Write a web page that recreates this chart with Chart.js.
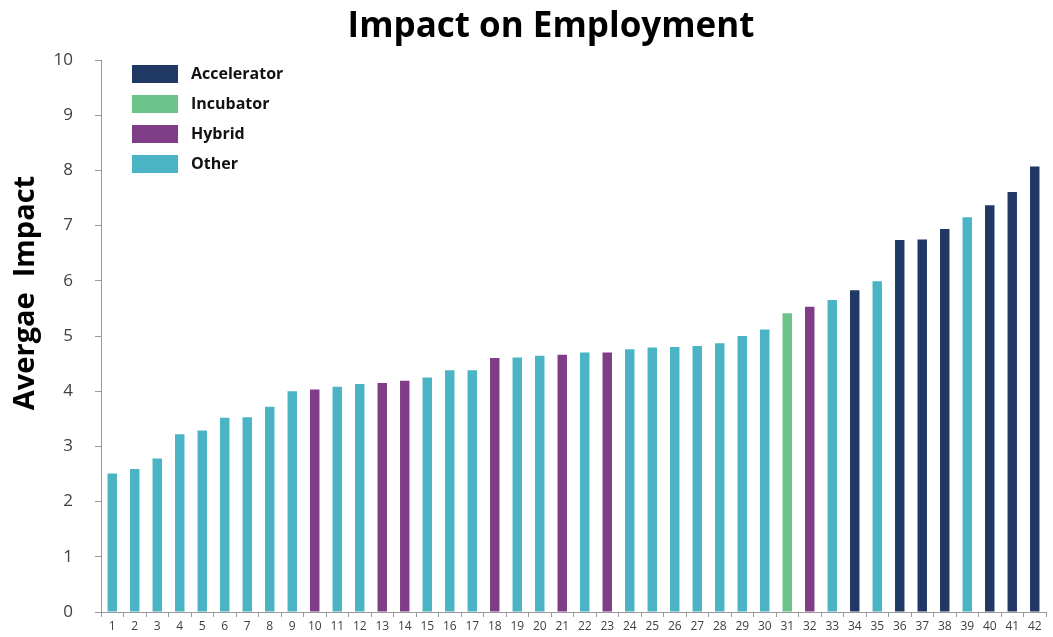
<!DOCTYPE html>
<html>
<head>
<meta charset="utf-8">
<script src="https://cdn.jsdelivr.net/npm/chart.js@4.4.0/dist/chart.umd.min.js"></script>
<style>
  html, body { margin: 0; padding: 0; background: #fff; }
  #wrap { width: 1053px; height: 637px; }
</style>
</head>
<body>
<div id="wrap"><canvas id="myChart" width="1053" height="637"></canvas></div>
<script>
var labels = [];
for (var n = 1; n <= 42; n++) labels.push(String(n));

// average impact per program, sorted ascending
var values = [2.51, 2.59, 2.78, 3.22, 3.29, 3.52, 3.53, 3.72, 4.00, 4.03,
              4.08, 4.13, 4.15, 4.19, 4.25, 4.38, 4.38, 4.60, 4.61, 4.64,
              4.66, 4.70, 4.70, 4.76, 4.79, 4.80, 4.82, 4.87, 5.00, 5.12,
              5.41, 5.53, 5.65, 5.83, 5.99, 6.74, 6.75, 6.94, 7.15, 7.37,
              7.61, 8.07];

// A = accelerator, I = incubator, H = hybrid, O = other
var types = ['O','O','O','O','O','O','O','O','O','H',
             'O','O','H','H','O','O','O','H','O','O',
             'H','O','H','O','O','O','O','O','O','O',
             'I','H','O','A','O','A','A','A','O','A',
             'A','A'];

var groups = [
  {key: 'A', label: 'Accelerator', color: '#203864'},
  {key: 'I', label: 'Incubator',   color: '#6cc48b'},
  {key: 'H', label: 'Hybrid',      color: '#803d87'},
  {key: 'O', label: 'Other',       color: '#4bb4c4'}
];

var datasets = groups.map(function(g){
  return {
    label: g.label,
    backgroundColor: g.color,
    data: values.map(function(v, i){ return types[i] === g.key ? v : null; }),
    barPercentage: 0.42,
    categoryPercentage: 1.0
  };
});

var FONT = "'Open Sans', 'DejaVu Sans', sans-serif";

// title, y axis title and the legend box drawn by hand
var decorations = {
  id: 'decorations',
  afterDraw: function(chart){
    var c = chart.ctx;
    var area = chart.chartArea;
    c.save();
    c.fillStyle = '#000';
    c.textAlign = 'center';
    c.textBaseline = 'middle';
    c.font = "bold 35px " + FONT;
    c.fillText('Impact on Employment', 551, 27);

    c.save();
    c.translate(26, 293);
    c.rotate(-Math.PI / 2);
    c.font = "bold 29px " + FONT;
    c.fillText('Avergae  Impact', 0, 0);
    c.restore();

    c.textAlign = 'left';
    c.font = "bold 16px " + FONT;
    chart.data.datasets.forEach(function(ds, i){
      var y = area.top + 5 + i * 30;
      c.fillStyle = ds.backgroundColor;
      c.fillRect(area.left + 31, y, 46, 18);
      c.fillStyle = '#111';
      c.fillText(ds.label, area.left + 90, y + 9);
    });
    c.restore();
  }
};

var ctx = document.getElementById("myChart");
var myChart = new Chart(ctx, {
  type: 'bar',
  data: {
    labels: labels,
    datasets: datasets
  },
  options: {
    responsive: false,
    animation: false,
    layout: { padding: { top: 60, right: 7, left: 0, bottom: 0 } },
    plugins: {
      legend: { display: false },
      title: { display: false },
      tooltip: { enabled: false }
    },
    scales: {
      x: {
        stacked: true,
        afterFit: function(scale){ scale.height = 25; },
        grid: { drawOnChartArea: false, tickLength: 5, color: '#999', offset: true },
        border: { color: '#999' },
        ticks: { color: '#404040', font: { family: FONT, size: 12 }, padding: 2, maxRotation: 0, autoSkip: false }
      },
      y: {
        stacked: true,
        min: 0,
        max: 10,
        afterFit: function(scale){
          scale.width = 101;
          scale.paddingTop = 0;
          scale.paddingBottom = 0;
        },
        grid: { drawOnChartArea: false, tickLength: 6, color: '#999' },
        border: { color: '#999' },
        ticks: { stepSize: 1, color: '#404040', font: { family: FONT, size: 17 }, padding: 22 }
      }
    }
  },
  plugins: [decorations]
});
</script>
</body>
</html>
